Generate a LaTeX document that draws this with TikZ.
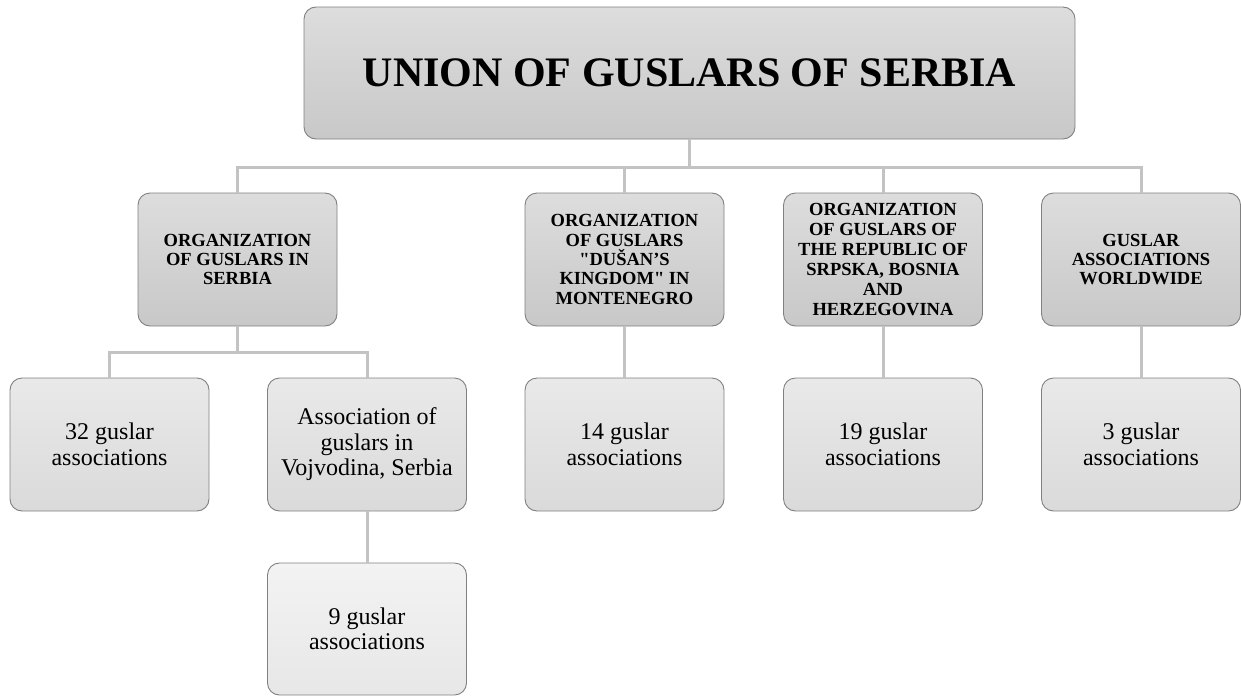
\documentclass[tikz,border=0pt]{standalone}
\usepackage{fontspec}
\setmainfont{Liberation Serif}
\definecolor{lvtop}{RGB}{221,221,221}
\definecolor{lvbot}{RGB}{200,200,200}
\definecolor{lthtop}{RGB}{233,233,233}
\definecolor{lthbot}{RGB}{218,218,218}
\definecolor{lfotop}{RGB}{243,243,243}
\definecolor{lfobot}{RGB}{231,231,231}
\definecolor{edgecol}{RGB}{128,128,128}
\definecolor{conncol}{RGB}{195,195,195}
\begin{document}
\begin{tikzpicture}[x=1pt,y=-1pt,
  box/.style={draw=edgecol, line width=0.9pt, rounded corners=12pt, inner sep=0pt, align=center, text=black},
  toplev/.style={box, top color=lvtop, bottom color=lvbot, minimum width=771pt, minimum height=132pt, font=\bfseries\fontsize{42}{46}\selectfont},
  lvtwo/.style={box, top color=lvtop, bottom color=lvbot, minimum width=199pt, minimum height=133pt, font=\bfseries\fontsize{18.5}{19.4}\selectfont},
  lvtwowide/.style={lvtwo, font=\bfseries\fontsize{18.5}{19.9}\selectfont},
  lvthree/.style={box, top color=lthtop, bottom color=lthbot, minimum width=199pt, minimum height=133pt, font=\fontsize{24}{25.5}\selectfont},
  lvfour/.style={box, top color=lfotop, bottom color=lfobot, minimum width=199pt, minimum height=132pt, font=\fontsize{24}{25.5}\selectfont},
  conn/.style={draw=conncol, line width=3pt}
]
\useasboundingbox (0,0) rectangle (1241,696);

\coordinate (bus) at (690,167);
\coordinate (busA) at (237.5,352);

\node[toplev] (top) at (689.5,73) {UNION OF GUSLARS OF SERBIA};

\node[lvtwo] (A) at (237.5,259.5) {ORGANIZATION\\OF GUSLARS IN\\SERBIA};
\node[lvtwo] (B) at (624.5,259.5) {ORGANIZATION\\OF GUSLARS\\\textquotedbl DUŠAN’S\\KINGDOM\textquotedbl{} IN\\MONTENEGRO};
\node[lvtwowide] (C) at (883,259.5) {ORGANIZATION\\OF GUSLARS OF\\THE REPUBLIC OF\\SRPSKA, BOSNIA\\AND\\HERZEGOVINA};
\node[lvtwo] (D) at (1141,259.5) {GUSLAR\\ASSOCIATIONS\\WORLDWIDE};

\node[lvthree] (a1) at (109.5,444.5) {32 guslar\\associations};
\node[lvthree] (a2) at (367,444.5) {Association of\\guslars in\\Vojvodina, Serbia};
\node[lvthree] (b1) at (624.5,444.5) {14 guslar\\associations};
\node[lvthree] (c1) at (883,444.5) {19 guslar\\associations};
\node[lvthree] (d1) at (1141,444.5) {3 guslar\\associations};

\node[lvfour] (e1) at (367,629) {9 guslar\\associations};

\draw[conn] (top.south) -- (top.south |- bus) -| (A.north);
\draw[conn] (top.south |- bus) -| (B.north);
\draw[conn] (top.south |- bus) -| (C.north);
\draw[conn] (top.south |- bus) -| (D.north);

\draw[conn] (A.south) -- (busA) -| (a1.north);
\draw[conn] (busA) -| (a2.north);
\draw[conn] (B.south) -- (b1.north);
\draw[conn] (C.south) -- (c1.north);
\draw[conn] (D.south) -- (d1.north);
\draw[conn] (a2.south) -- (e1.north);
\end{tikzpicture}
\end{document}
